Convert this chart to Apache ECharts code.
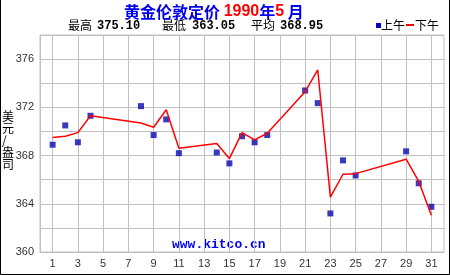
<!DOCTYPE html>
<html><head><meta charset="utf-8">
<script src="https://cdn.jsdelivr.net/npm/echarts@6/dist/echarts.min.js"></script>
<style>html,body{margin:0;padding:0;background:#fff}#c{width:450px;height:275px}</style>
</head><body><div id="c"></div>
<script>
// Trading days (London fix), May 1990
const days = [1,2,3,4,8,9,10,11,14,15,16,17,18,21,22,23,24,25,29,30,31];
// 上午 (AM fix)
const amValues = [368.9,370.5,369.1,371.3,372.1,369.7,371.0,368.2,368.25,367.35,369.6,369.1,369.7,373.4,372.35,363.2,367.6,366.35,368.35,365.7,363.75];
// 下午 (PM fix)
const pmValues = [369.5,369.6,369.9,371.3,370.7,370.35,371.8,368.6,369.0,367.75,369.9,369.3,369.85,373.3,375.1,364.55,366.45,366.5,367.7,365.85,363.05];
const statLabels = ['最高','最低','平均'];
const statValues = ['375.10','363.05','368.95'];
const yTicks = [360,364,368,372,376];

const amData = days.map((d,i)=>[d, amValues[i]]);
const pmData = days.map((d,i)=>[d, pmValues[i]]);

const chart = echarts.init(document.getElementById('c'), null, {renderer:'canvas'});
const statX = [[68,97],[162,192],[251,280]];
const graphics = [];
statLabels.forEach((l,i)=>{
  graphics.push({type:'text', left:statX[i][0], top:19, style:{text:l, font:'12px "Noto Sans CJK SC"', fill:'#000'}});
  graphics.push({type:'text', left:statX[i][1], top:20, style:{text:statValues[i], font:'bold 12px "Liberation Mono"', fill:'#000'}});
});
graphics.push({type:'rect', shape:{x:376,y:23,width:5,height:5}, style:{fill:'#0000cc'}});
graphics.push({type:'text', left:381, top:19, style:{text:'上午', font:'12px "Noto Sans CJK SC"', fill:'#000'}});
graphics.push({type:'rect', shape:{x:406,y:24,width:8,height:2}, style:{fill:'#ff0000'}});
graphics.push({type:'text', left:415, top:19, style:{text:'下午', font:'12px "Noto Sans CJK SC"', fill:'#000'}});
graphics.push({type:'text', left:2, top:110, style:{text:'美\n元\n/\n盎\n司', font:'12px "Noto Sans CJK SC"', lineHeight:12, fill:'#000', align:'center'}});
graphics.push({type:'text', left:172, top:238, style:{text:'www.kitco.cn', font:'bold 13px "Liberation Mono"', fill:'#0000ee'}});
graphics.push({type:'polyline', shape:{points:[[0.5,0],[0.5,274.5],[449.5,274.5],[449.5,0]]}, style:{stroke:'#000', lineWidth:1, fill:null}});

chart.setOption({
  animation:false,
  backgroundColor:'#fff',
  title:{
    text:'{b|黄金伦敦定价 }{r|1990}{b|年}{r|5}{b| 月}',
    left:119, top:-1,
    textStyle:{rich:{
      b:{fontSize:16, fontWeight:'bold', color:'#0000ee', fontFamily:'"Noto Sans CJK SC"'},
      r:{fontSize:16, color:'#ff0000', fontFamily:'"Liberation Sans"'}
    }}
  },
  grid:{left:40, right:6, top:35, bottom:23, show:true, borderColor:'#c0c0c0', borderWidth:1},
  xAxis:{
    type:'value', min:0, max:32, interval:1,
    axisLine:{lineStyle:{color:'#c0c0c0'}},
    axisTick:{show:false},
    axisLabel:{margin:6, fontSize:11, color:'#333', fontFamily:'"Liberation Sans"',
      formatter:v=> (v%2===1 ? String(v) : '')},
    splitLine:{show:true, lineStyle:{color:['rgba(0,0,0,0)','#c0c0c0'], width:1}}
  },
  yAxis:{
    type:'value', min:360, max:378, interval:2,
    axisLine:{show:true, lineStyle:{color:'#c0c0c0'}},
    axisTick:{show:false},
    axisLabel:{margin:6, fontSize:11, color:'#333', fontFamily:'"Liberation Sans"',
      formatter:v=> (yTicks.indexOf(v)>=0 ? String(v) : '')},
    splitLine:{show:true, lineStyle:{color:'#c0c0c0', width:1}}
  },
  series:[
    {name:'上午', type:'scatter', data:amData, symbol:'rect', symbolSize:6,
      itemStyle:{color:'#0808b0'}, z:2},
    {name:'下午', type:'line', data:pmData, symbol:'none',
      lineStyle:{color:'#ff0000', width:1.5}, z:3}
  ],
  graphic:graphics
});
</script></body></html>
